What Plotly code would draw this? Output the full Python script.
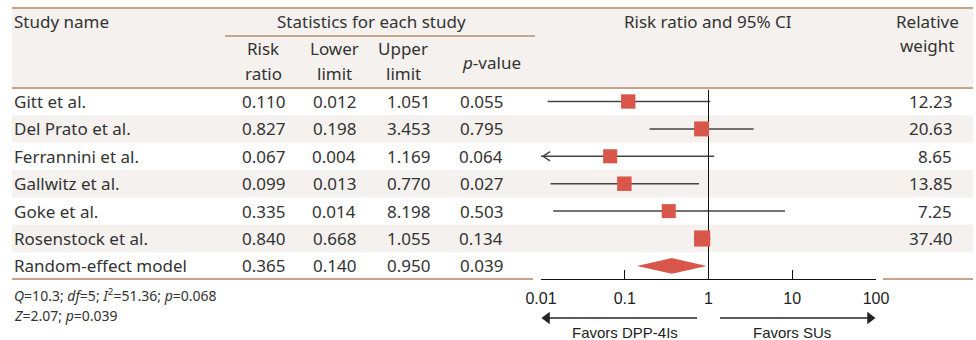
import math
import plotly.graph_objects as go

# ---------------- data ----------------
studies = ["Gitt et al.", "Del Prato et al.", "Ferrannini et al.", "Gallwitz et al.",
           "Goke et al.", "Rosenstock et al."]
risk_ratio = [0.110, 0.827, 0.067, 0.099, 0.335, 0.840]
lower_limit = [0.012, 0.198, 0.004, 0.013, 0.014, 0.668]
upper_limit = [1.051, 3.453, 1.169, 0.770, 8.198, 1.055]
p_values = [0.055, 0.795, 0.064, 0.027, 0.503, 0.134]
weights = [12.23, 20.63, 8.65, 13.85, 7.25, 37.40]

pooled_name = "Random-effect model"
pooled_rr = 0.365
pooled_lower = 0.140
pooled_upper = 0.950
pooled_p = 0.039

tick_values = [0.01, 0.1, 1, 10, 100]
tick_labels = ["0.01", "0.1", "1", "10", "100"]
null_value = 1

footnote_1 = "<i>Q</i>=10.3; <i>df</i>=5; <i>I</i><sup>2</sup>=51.36; <i>p</i>=0.068"
footnote_2 = "<i>Z</i>=2.07; <i>p</i>=0.039"
favors_left = "Favors DPP-4Is"
favors_right = "Favors SUs"

# ---------------- style ----------------
W, H = 976, 340
ROW0_PX = 101.5
ROW_H = 27.4
BROWN = "#c8a38c"
SHADE = "#f5f1ee"
RED = "#d9574a"
TXT = "#333333"
FONT = "Noto Sans"
AXFONT = "Liberation Sans"
FS = 17
DECADE_PX = 83.75
AX_LEFT_PX = 541


def px(x):
    return x / W


def py(y):
    return 1 - y / H


def row_of(pix):
    return (pix - ROW0_PX) / ROW_H


def val_at_px(pix):
    return 10 ** (-2 + (pix - AX_LEFT_PX) / DECADE_PX)


n = len(studies)
pooled_row = n

fig = go.Figure()

# CI lines
for i in range(n):
    fig.add_trace(go.Scatter(x=[lower_limit[i], upper_limit[i]], y=[i, i], mode="lines",
                             line=dict(color="#444444", width=1.5), hoverinfo="skip",
                             showlegend=False))
    if lower_limit[i] < tick_values[0]:
        # open chevron showing the interval continues beyond the axis
        fig.add_trace(go.Scatter(x=[val_at_px(550), val_at_px(543), val_at_px(550)],
                                 y=[i - 0.17, i, i + 0.17], mode="lines",
                                 line=dict(color="#444444", width=1.5), hoverinfo="skip",
                                 showlegend=False, cliponaxis=False))

# reference line
fig.add_trace(go.Scatter(x=[null_value, null_value], y=[row_of(90), row_of(279)], mode="lines",
                         line=dict(color="#111111", width=1), hoverinfo="skip", showlegend=False))

# squares
sizes = [13.5 + 0.07 * w for w in weights]
fig.add_trace(go.Scatter(x=risk_ratio, y=list(range(n)), mode="markers",
                         marker=dict(symbol="square", size=sizes, color=RED, opacity=1,
                                     line=dict(width=0)),
                         hoverinfo="skip", showlegend=False))

# diamond
dh = 0.29
fig.add_trace(go.Scatter(x=[pooled_lower, pooled_rr, pooled_upper, pooled_rr, pooled_lower],
                         y=[pooled_row, pooled_row - dh, pooled_row, pooled_row + dh, pooled_row],
                         mode="lines", fill="toself", fillcolor=RED, line=dict(width=0, color=RED),
                         hoverinfo="skip", showlegend=False))

# favors arrows
arrow_row = row_of(318)
fig.add_trace(go.Scatter(x=[val_at_px(697), val_at_px(548)], y=[arrow_row, arrow_row],
                         mode="lines", line=dict(color="#222", width=1.5), hoverinfo="skip",
                         showlegend=False, cliponaxis=False))
fig.add_trace(go.Scatter(x=[val_at_px(720), val_at_px(869)], y=[arrow_row, arrow_row],
                         mode="lines", line=dict(color="#222", width=1.5), hoverinfo="skip",
                         showlegend=False, cliponaxis=False))
fig.add_trace(go.Scatter(x=[val_at_px(547), val_at_px(870)], y=[arrow_row, arrow_row],
                         mode="markers", cliponaxis=False,
                         marker=dict(symbol=["triangle-left", "triangle-right"], size=[11, 11],
                                     color="#222", opacity=1, line=dict(width=0)),
                         hoverinfo="skip", showlegend=False))

shapes = []
# header background
shapes.append(dict(type="rect", xref="paper", yref="paper", x0=px(12), x1=px(973),
                   y0=py(88), y1=py(8), fillcolor=SHADE, line=dict(width=0), layer="below"))
# row shading
for i in range(1, n, 2):
    shapes.append(dict(type="rect", xref="paper", yref="y", x0=px(12), x1=px(973),
                       y0=i - 0.5, y1=i + 0.5, fillcolor=SHADE, line=dict(width=0), layer="below"))
# brown rules
for (x0, x1, yy) in [(12, 973, 8), (12, 973, 88), (225, 535, 36), (12, 533, 279), (883, 973, 279)]:
    shapes.append(dict(type="line", xref="paper", yref="paper", x0=px(x0), x1=px(x1),
                       y0=py(yy), y1=py(yy), line=dict(color=BROWN, width=2)))

ann = []


def txt(text, x, y, xanchor="center", size=FS, yref="paper", font=FONT, color=TXT, xref="paper"):
    ann.append(dict(text=text, x=x, y=y, xref=xref, yref=yref, xanchor=xanchor,
                    yanchor="middle", showarrow=False, font=dict(family=font, size=size, color=color)))


# headers
txt("Study name", px(12), py(22), xanchor="left")
txt("Statistics for each study", px(371), py(22))
txt("Risk", px(263), py(49))
txt("ratio", px(263), py(73))
txt("Lower", px(334), py(49))
txt("limit", px(334), py(73))
txt("Upper", px(403), py(49))
txt("limit", px(403), py(73))
txt("<i>p</i>-value", px(492), py(62))
txt("Risk ratio and 95% CI", px(708), py(22))
txt("Relative", px(927), py(22))
txt("weight", px(927), py(46))

# rows
names = studies + [pooled_name]
rrs = risk_ratio + [pooled_rr]
lows = lower_limit + [pooled_lower]
ups = upper_limit + [pooled_upper]
ps = p_values + [pooled_p]
for i in range(n + 1):
    txt(names[i], px(12), i, xanchor="left", yref="y")
    txt(f"{rrs[i]:.3f}", px(263), i, yref="y")
    txt(f"{lows[i]:.3f}", px(334), i, yref="y")
    txt(f"{ups[i]:.3f}", px(408), i, yref="y")
    txt(f"{ps[i]:.3f}", px(481), i, yref="y")
for i in range(n):
    txt(f"{weights[i]:.2f}", px(954), i, xanchor="right", yref="y")

# footnotes
txt(footnote_1, px(12), py(295), xanchor="left", size=14)
txt(footnote_2, px(12), py(315), xanchor="left", size=14)

# favors labels
txt(favors_left, math.log10(0.1), py(332), size=15, xref="x", font=AXFONT, color="#222")
txt(favors_right, math.log10(10), py(332), size=15, xref="x", font=AXFONT, color="#222")

y_top = -ROW0_PX / ROW_H
y_bot = (H - ROW0_PX) / ROW_H

fig.update_layout(
    width=W, height=H, autosize=False,
    margin=dict(l=0, r=0, t=0, b=0, pad=0, autoexpand=False),
    paper_bgcolor="white", plot_bgcolor="rgba(0,0,0,0)",
    shapes=shapes, annotations=ann,
    xaxis=dict(type="log", range=[-2, 2], domain=[px(541), px(876)], anchor="free",
               position=py(279), showgrid=False, zeroline=False, showline=True,
               linecolor="#111", linewidth=1, ticks="inside", ticklen=9, tickcolor="#111",
               tickvals=tick_values, ticktext=tick_labels, automargin=False,
               ticklabelstandoff=5,
               tickfont=dict(family=AXFONT, size=16, color="#222"), fixedrange=True),
    yaxis=dict(range=[y_bot, y_top], domain=[0, 1], visible=False, fixedrange=True,
               automargin=False),
    showlegend=False,
)

fig.write_html("out.html", config={"displayModeBar": False},
               post_script="document.body.style.margin='0';document.body.style.padding='0';")
